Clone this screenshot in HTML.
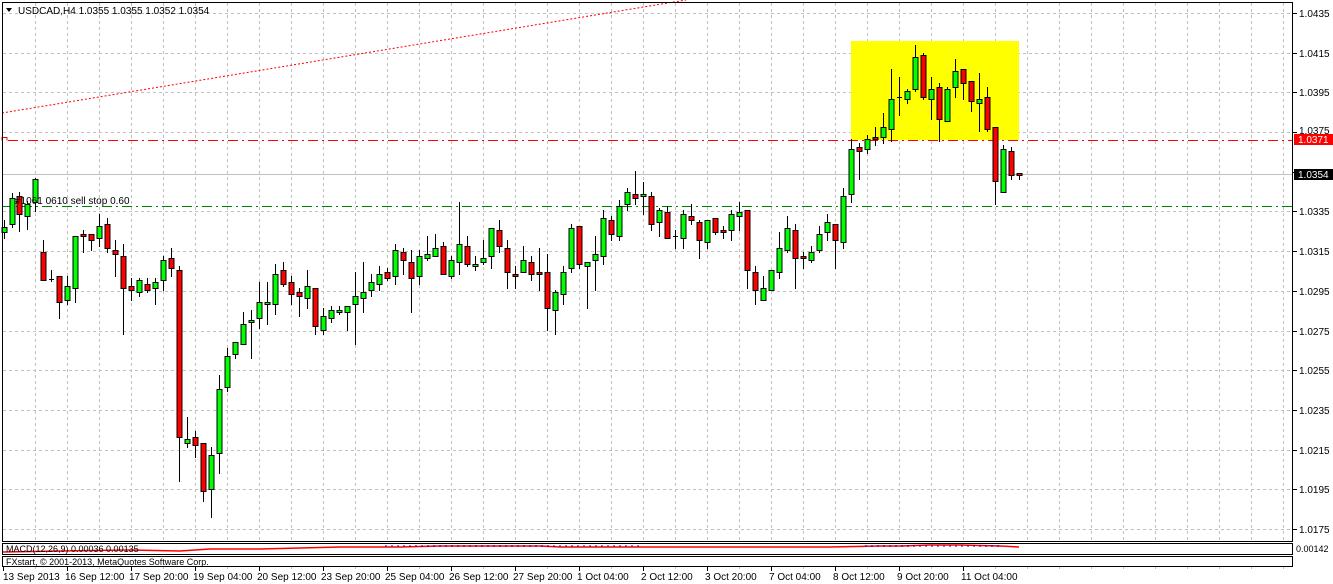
<!DOCTYPE html>
<html><head><meta charset="utf-8"><style>
html,body{margin:0;padding:0;background:#fff;width:1333px;height:584px;overflow:hidden}
svg{display:block;font-family:"Liberation Sans",sans-serif}
</style></head><body>
<svg id="s" width="1333" height="584" xmlns="http://www.w3.org/2000/svg">
<rect x="0" y="0" width="1333" height="584" fill="#fff"/>
<g id="grid" stroke="#c0c0c0" stroke-dasharray="3,3" stroke-width="1"></g>
<rect x="851" y="41" width="168" height="99" fill="#ffff00"/>
<line x1="2" y1="174.5" x2="1293" y2="174.5" stroke="#c0c0c0" stroke-width="1"/>
<line x1="2" y1="113" x2="686" y2="0" stroke="#ff0000" stroke-width="1" stroke-dasharray="2,2"/>
<line x1="8" y1="140.5" x2="1293" y2="140.5" stroke="#ff0000" stroke-width="1" stroke-dasharray="10,4,2,4"/>
<polyline points="2,140.5 2,137.5 7,137.5 7,140.5" fill="none" stroke="#ff0000"/>
<line x1="2" y1="206.5" x2="1293" y2="206.5" stroke="#008000" stroke-width="1" stroke-dasharray="10,4,2,4"/>
<g id="c"></g>
<text x="15" y="204" font-size="10" fill="#000">#1061 0610 sell stop 0.60</text>
<rect x="2.5" y="2.5" width="1290" height="539" fill="none" stroke="#000"/>
<rect x="2.5" y="543.5" width="1290" height="11" fill="none" stroke="#000"/>
<rect x="2.5" y="556.5" width="1290" height="10" fill="none" stroke="#000"/>
<polygon points="6,8 12,8 9,12" fill="#000"/>
<text x="18" y="14" font-size="10" fill="#000">USDCAD,H4  1.0355 1.0355 1.0352 1.0354</text>
<g id="ax" font-size="10" fill="#000"></g>
<rect x="1294" y="134" width="39" height="11" fill="#ff0000"/>
<text x="1298" y="143" font-size="10" fill="#fff">1.0371</text>
<rect x="1294" y="169" width="39" height="11" fill="#000"/>
<text x="1298" y="178" font-size="10" fill="#fff">1.0354</text>
<polyline points="3,552 60,551 130,550 180,551 210,549 260,549 300,548 340,547 400,547 440,546 540,546 560,547 700,547 760,547 830,547 880,546 900,546 930,545 960,545 1000,546 1019,547" fill="none" stroke="#ff0000" stroke-width="1.5"/>
<g stroke="#0000cc" stroke-width="1" id="md"></g>
<text x="6" y="552" font-size="9" fill="#000">MACD(12,26,9) 0.00036 0.00135</text>
<text x="6" y="565" font-size="9" fill="#000">FXstart, © 2001-2013, MetaQuotes Software Corp.</text>
<text x="1296" y="552" font-size="9" fill="#000">0.00142</text>
<g id="dt" font-size="10" fill="#000"></g>
</svg>
<script>
var NS="http://www.w3.org/2000/svg";
function el(p,t,a,txt){var e=document.createElementNS(NS,t);for(var k in a)e.setAttribute(k,a[k]);if(txt)e.textContent=txt;document.getElementById(p).appendChild(e);return e;}
for(var x=35;x<1293;x+=32){el("grid","line",{x1:x+.5,y1:3,x2:x+.5,y2:541});el("grid","line",{x1:x+.5,y1:567,x2:x+.5,y2:569});}
var prices=["1.0435","1.0415","1.0395","1.0375","1.0355","1.0335","1.0315","1.0295","1.0275","1.0255","1.0235","1.0215","1.0195","1.0175"];
for(var i=0;i<14;i++){var y=Math.round(13+i*39.69);
 if(i!=4) el("grid","line",{x1:3,y1:y+.5,x2:1292,y2:y+.5});
 el("ax","line",{x1:1293,y1:y+.5,x2:1297,y2:y+.5,stroke:"#000"});
 if(i!=3&&i!=4) el("ax","text",{x:1299,y:y+4},prices[i]);}
el("ax","text",{x:1299,y:134},"1.0375");
var d=["13 Sep 2013","16 Sep 12:00","17 Sep 20:00","19 Sep 04:00","20 Sep 12:00","23 Sep 20:00","25 Sep 04:00","26 Sep 12:00","27 Sep 20:00","1 Oct 04:00","2 Oct 12:00","3 Oct 20:00","7 Oct 04:00","8 Oct 12:00","9 Oct 20:00","11 Oct 04:00"];
for(var i=0;i<d.length;i++){var x=3+64*i;el("dt","line",{x1:x+.5,y1:567,x2:x+.5,y2:571,stroke:"#000"});el("dt","text",{x:(i==0?x:x-2),y:580},d[i]);}
for(var x=380;x<1020;x+=6){if((x>380&&x<640)||(x>860&&x<1000))el("md","line",{x1:x,y1:545,x2:x,y2:547});}
var C=[
[4,220,227,232,238,1],[12,193,198,224,227,1],[19,192,196,214,231,0],[27,201,204,216,229,1],[35,178,179,202,211,1],
[43,240,252,280,280,0],[51,270,279,279,281,1],[59,276,276,302,318,0],[67,276,286,300,304,1],[75,236,236,288,302,1],
[83,230,234,236,252,0],[91,234,234,240,250,0],[99,214,226,238,246,1],[107,218,224,248,252,0],[115,240,250,254,276,0],
[123,244,256,288,334,0],[131,278,286,290,300,0],[139,278,280,292,296,1],[147,278,284,290,292,0],[155,278,282,288,304,1],
[163,256,260,280,290,1],[171,248,258,268,276,0],[179,266,270,437,481,0],[187,417,439,443,447,1],[195,431,437,445,457,0],
[203,443,443,491,501,0],[211,447,455,489,517,1],[219,375,389,453,473,1],[227,348,356,387,391,1],[235,342,342,354,358,1],
[243,312,324,344,344,1],[251,310,320,322,358,1],[259,282,302,318,328,1],[267,282,302,304,324,1],[275,264,274,304,314,1],
[283,262,270,284,286,0],[291,276,282,294,304,0],[299,288,292,296,316,0],[307,270,286,298,308,1],[315,288,288,326,334,0],
[323,308,316,330,334,1],[331,306,310,318,322,1],[339,306,310,312,314,1],[347,306,306,312,330,1],[355,272,296,304,344,1],
[363,262,292,298,312,1],[371,274,282,290,296,1],[379,266,274,284,290,1],[387,268,272,278,280,0],[395,244,250,276,284,1],
[403,248,252,260,274,0],[411,250,262,278,312,0],[419,250,256,276,284,1],[427,236,254,258,260,1],[435,234,248,256,256,1],
[443,242,246,274,274,0],[451,256,260,276,278,1],[459,202,244,262,274,1],[467,236,246,264,266,0],[475,256,264,266,270,1],
[483,240,258,262,264,1],[491,228,228,256,268,1],[499,220,230,246,252,0],[507,240,248,272,288,0],[515,266,274,276,288,0],
[523,246,260,272,272,1],[531,256,262,274,280,0],[539,248,272,274,290,0],[547,254,272,308,330,0],[555,290,292,310,334,1],
[563,266,272,294,304,1],[571,224,228,268,272,1],[579,226,226,264,268,0],[587,262,262,266,308,1],[595,236,254,260,290,1],
[603,210,218,256,264,1],[611,216,220,234,240,0],[619,200,206,236,240,1],[627,188,192,204,210,1],[635,171,194,198,204,0],
[643,182,194,196,214,1],[651,192,196,224,230,0],[659,208,210,222,236,1],[667,206,212,238,238,0],[675,230,236,236,248,1],
[683,210,214,238,248,1],[691,204,216,220,224,0],[699,220,222,240,258,0],[707,220,220,242,248,1],[715,218,218,232,234,0],
[723,226,230,232,238,0],[731,210,214,230,240,1],[739,202,212,216,230,1],[747,210,210,270,288,0],[755,266,272,290,304,0],
[763,276,288,300,300,1],[771,270,270,290,290,1],[779,232,248,272,278,1],[787,216,228,250,252,1],[795,224,230,258,288,0],
[803,252,256,258,268,0],[811,246,252,260,262,1],[819,226,234,250,252,1],[827,214,222,232,240,1],[835,224,224,240,268,0],
[843,188,196,242,248,1],[851,139,149,194,202,1],[859,143,147,151,179,0],[867,135,139,149,153,1],[875,127,137,139,145,0],
[883,113,127,137,143,1],[891,69,99,129,141,1],[899,77,97,97,115,1],[907,89,91,99,103,1],[915,45,57,89,91,1],
[923,53,55,97,99,0],[931,77,89,99,119,1],[939,83,87,119,141,0],[947,87,89,121,121,1],[955,59,71,87,97,1],
[963,69,69,83,99,0],[971,81,81,101,111,0],[979,73,99,103,131,1],[987,87,97,129,131,0],[995,127,127,181,204,0],
[1003,145,149,192,192,1],[1011,147,151,175,179,0],[1019,173,173,175,179,0]];
C.forEach(function(c){var x=c[0]+.5;
 el("c","line",{x1:x,y1:c[1],x2:x,y2:c[4]+1,stroke:"#000","stroke-width":1});
 var h=Math.max(c[3]-c[2],1);
 if(c[3]-c[2]<1) el("c","line",{x1:c[0]-2,y1:c[2]+.5,x2:c[0]+3,y2:c[2]+.5,stroke:"#000"});
 else el("c","rect",{x:c[0]-2,y:c[2]+.5,width:5,height:h,fill:c[5]?"#00ff00":"#ff0000",stroke:"#000","stroke-width":1});
});
</script>
</body></html>
